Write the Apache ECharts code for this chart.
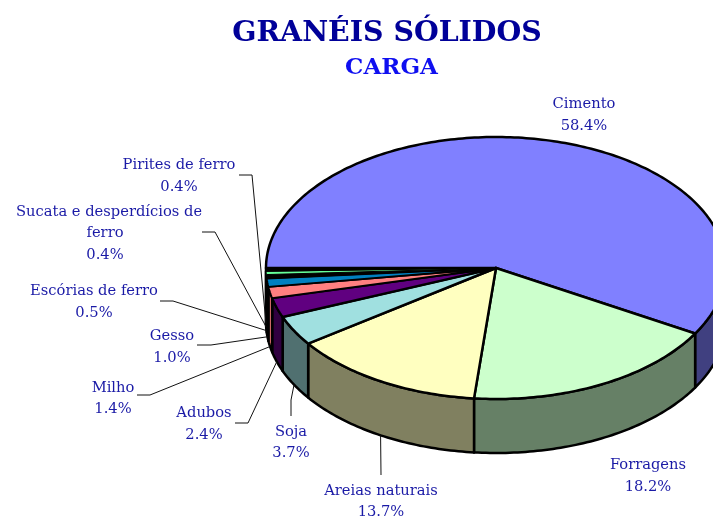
<!DOCTYPE html>
<html><head><meta charset="utf-8">
<style>html,body{margin:0;padding:0;background:#fff}#c{width:713px;height:519px}</style>
<script src="https://cdn.jsdelivr.net/npm/echarts@6/dist/echarts.min.js"></script>
</head><body><div id="c"></div>
<script>
const categories = ['Cimento','Forragens','Areias naturais','Soja','Adubos','Milho','Gesso','Escórias de ferro','Sucata e desperdícios de ferro','Pirites de ferro'];
const shares = [58.4,18.2,13.7,3.7,2.4,1.4,1.0,0.5,0.4,0.4];
const titleText = 'GRANÉIS SÓLIDOS';
const subtitleText = 'CARGA';

const topColors = ['#8080FF','#CCFFCC','#FFFFC0','#A0E0E0','#600080','#FF8080','#0080C0','#000000','#66FF99','#000000'];
const sideColors = ['#404080','#668066','#808060','#507070','#300040','#E07070','#004060','#000000','#338050','#000000'];
const topStrokeWidths = [2.5,2.5,2.5,2.5,2.2,1.8,1.8,1,1,1];

const pie = {cx:496, cy:268, rx:230, ry:131, depth:54, startDeg:180};
const labelLayout = [
  {x:584,y:115},
  {x:648,y:476},
  {x:381,y:501.5,elbow:[[381,475]]},
  {x:291,y:442.5,elbow:[[291,416],[291,400]]},
  {x:204,y:424,elbow:[[235,423],[248,423]]},
  {x:113,y:398.5,elbow:[[137,395],[150,395]]},
  {x:172,y:347,elbow:[[197,345],[211,345]]},
  {x:94,y:302,elbow:[[160,301],[173,301]]},
  {x:105,y:244,elbow:[[202,232],[215,232]],first:{x:16,y:212,clipWidth:185.5}},
  {x:179,y:176,elbow:[[239,175],[252,175]]}
];

const total = shares.reduce((a,b)=>a+b,0);
const rad = d => d*Math.PI/180;
const topPt = d => [pie.cx+pie.rx*Math.cos(rad(d)), pie.cy+pie.ry*Math.sin(rad(d))];
const botPt = d => { const p = topPt(d); return [p[0],p[1]+pie.depth]; };
const arc = (a,b,f) => { const n=Math.max(2,Math.ceil(Math.abs(b-a)/1)); const o=[]; for(let i=0;i<=n;i++) o.push(f(a+(b-a)*i/n)); return o; };

let acc = pie.startDeg;
const spans = shares.map(v=>{ const s=acc; acc+=v/total*360; return [s,acc]; });
const labelFont = '14.7px "DejaVu Serif"';
const labelFill = '#1a1aa6';

function sideFaces(i){
  const out=[]; const [a,b]=spans[i];
  for(const k of [0,1]){
    const lo=Math.max(a,k*360), hi=Math.min(b,k*360+180);
    if(hi>lo){
      const pts=arc(lo,hi,topPt).concat(arc(hi,lo,botPt));
      out.push({type:'polygon',shape:{points:pts},style:{fill:sideColors[i],stroke:'#000',lineWidth:2.5,lineJoin:'round'},z2:1});
    }
  }
  return out;
}
function renderSlice(params){
  const i=params.dataIndex; const [a,b]=spans[i];
  const pts=[[pie.cx,pie.cy]].concat(arc(a,b,topPt));
  const kids=sideFaces(i);
  kids.push({type:'polygon',shape:{points:pts},style:{fill:topColors[i],stroke:'#000',lineWidth:topStrokeWidths[i],lineJoin:'round'},z2:2});
  return {type:'group',children:kids};
}
function renderLabel(params){
  const i=params.dataIndex, L=labelLayout[i];
  const mid=(spans[i][0]+spans[i][1])/2;
  const kids=[];
  if(L.elbow){
    const p=L.elbow.concat([botPt(mid)]);
    kids.push({type:'polyline',shape:{points:p},style:{stroke:'#111',lineWidth:1,fill:null},z2:3});
  }
  let name=categories[i];
  if(L.first){
    const cut=name.lastIndexOf(' ');
    kids.push({type:'text',x:L.first.x,y:L.first.y,z2:4,
      clipPath:{type:'rect',shape:{x:-2,y:-14,width:L.first.clipWidth+2,height:28}},
      style:{text:name.slice(0,cut),fill:labelFill,font:labelFont,textAlign:'left',textVerticalAlign:'middle'}});
    name=name.slice(cut+1);
  }
  kids.push({type:'text',x:L.x,y:L.y,z2:4,style:{text:name+'\n'+shares[i].toFixed(1)+'%',fill:labelFill,font:labelFont,textAlign:'center',textVerticalAlign:'middle',lineHeight:21.5}});
  return {type:'group',children:kids};
}
const chart=echarts.init(document.getElementById('c'),null,{renderer:'canvas'});
chart.setOption({
  animation:false,
  backgroundColor:'#fff',
  title:[
    {text:titleText,left:382,top:15,textAlign:'center',textStyle:{fontFamily:'DejaVu Serif',fontWeight:'bold',fontSize:28.4,color:'#000099'}},
    {text:subtitleText,left:386.5,top:52,textAlign:'center',textStyle:{fontFamily:'DejaVu Serif',fontWeight:'bold',fontSize:23,color:'#0f0ff0'}}
  ],
  series:[
    {type:'custom',coordinateSystem:'none',data:shares,renderItem:renderSlice,silent:true,z:2,clip:false},
    {type:'custom',coordinateSystem:'none',data:shares,renderItem:renderLabel,silent:true,z:3,clip:false}
  ]
});
</script></body></html>
